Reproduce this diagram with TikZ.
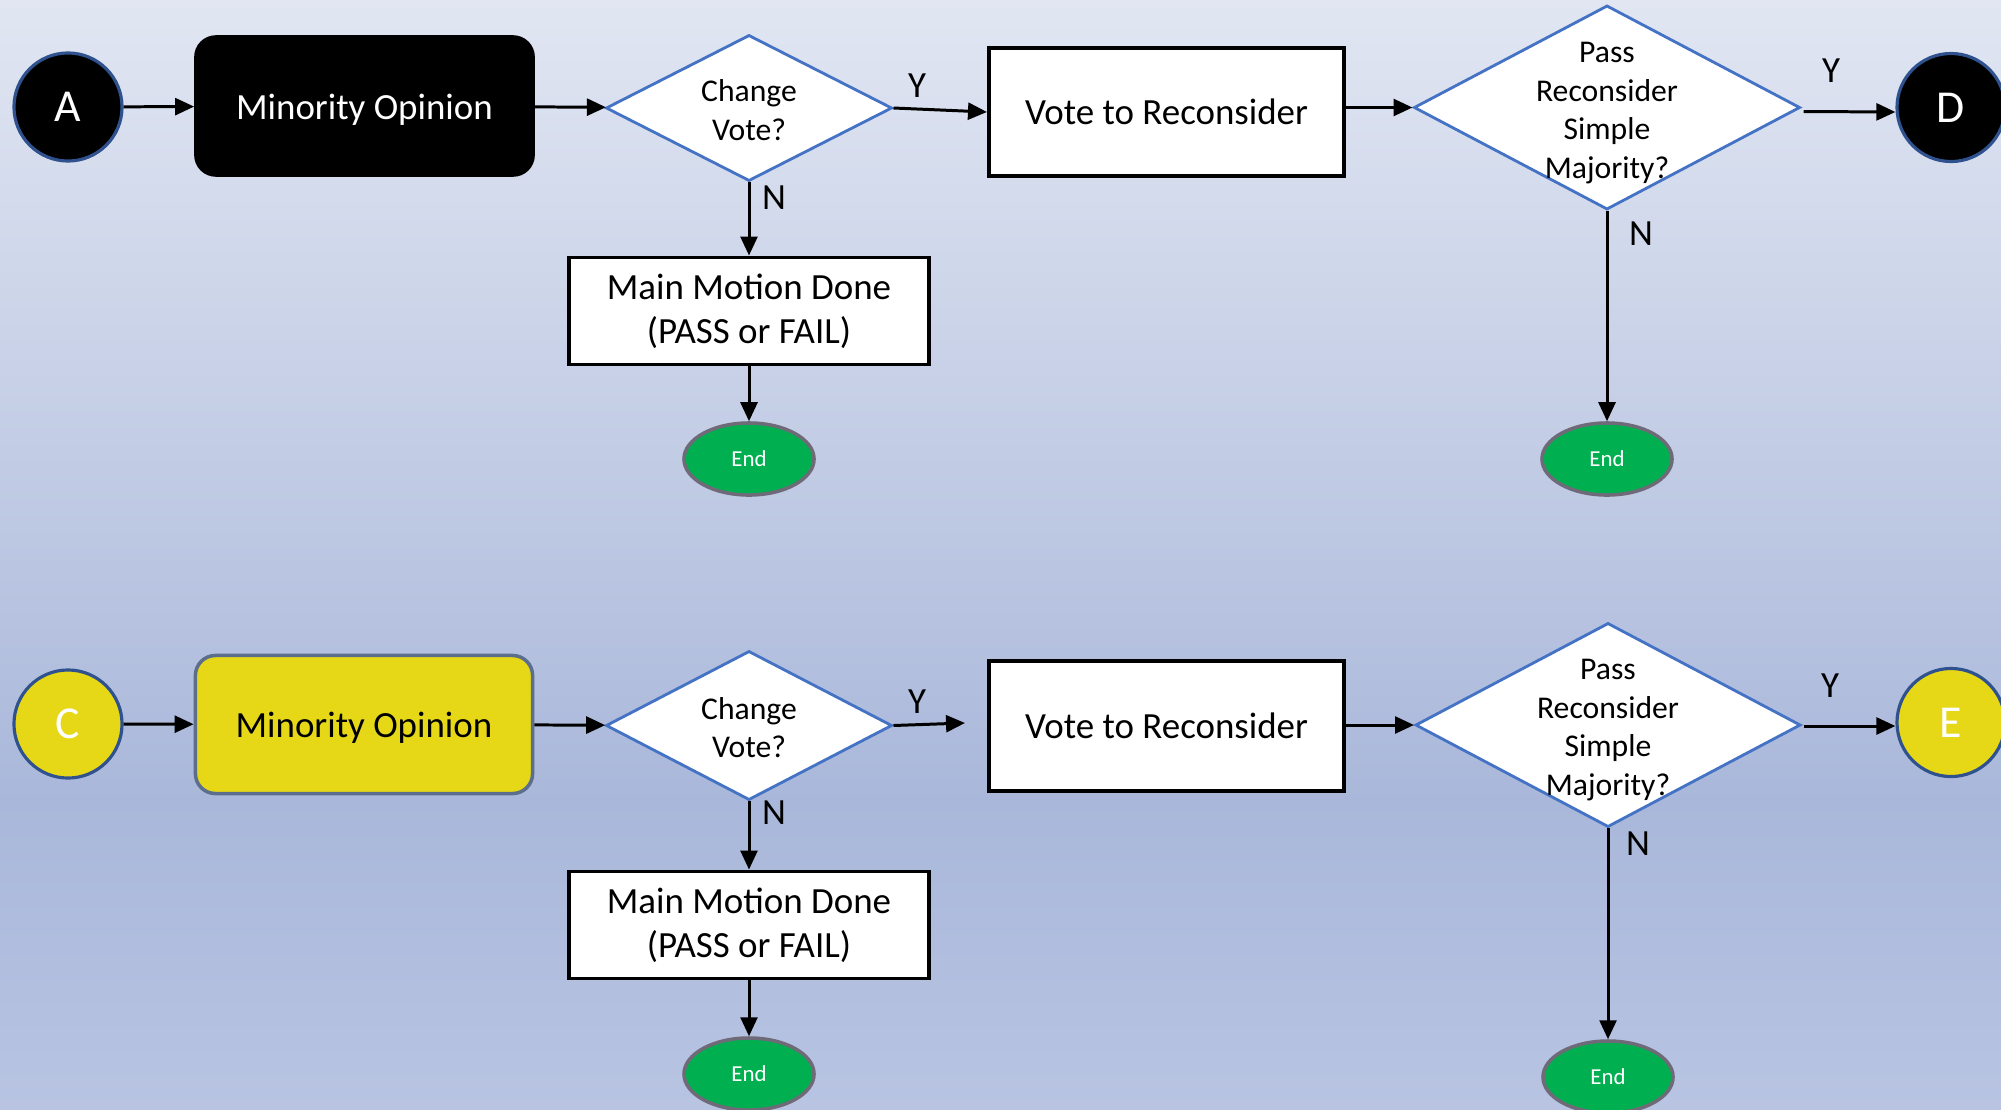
\documentclass[tikz,border=0pt]{standalone}
\usepackage{fontspec}
\setmainfont{Carlito}
\usetikzlibrary{arrows.meta,shapes.geometric}
\definecolor{bgTop}{HTML}{E1E6F2}
\definecolor{bgMid}{HTML}{BCC7E2}
\definecolor{bgLow}{HTML}{A9B7DA}
\definecolor{bgBot}{HTML}{B8C4E2}
\definecolor{cblue}{HTML}{2F528F}
\definecolor{dblue}{HTML}{4472C4}
\definecolor{ylw}{HTML}{E6D817}
\definecolor{ybord}{HTML}{5B6E8C}
\definecolor{egreen}{HTML}{00B050}
\definecolor{egray}{HTML}{6F6A78}
\begin{document}
\begin{tikzpicture}[x=0.01cm,y=-0.01cm,
  conn/.style={draw=black, line width=0.85pt, -{Triangle[length=5.4pt,width=4.8pt]}},
  circ/.style={circle, minimum size=1.08cm, inner sep=0pt, line width=0.9pt, draw=cblue,
     font=\fontsize{13}{14}\selectfont},
  opbox/.style={rectangle, rounded corners=0.2cm, minimum width=3.37cm, minimum height=1.38cm,
     line width=1pt, inner sep=0pt, font=\fontsize{10.5}{12.5}\selectfont},
  dia/.style={diamond, draw=dblue, fill=white, line width=0.8pt, inner sep=0pt},
  dtext/.style={align=center, inner sep=0pt, font=\fontsize{9}{11}\selectfont},
  wbox/.style={rectangle, draw=black, fill=white, line width=1.1pt, align=center, inner sep=0pt,
     font=\fontsize{10.5}{12.5}\selectfont},
  endn/.style={ellipse, fill=egreen, draw=egray, line width=1pt, inner sep=0pt,
     minimum width=1.30cm, minimum height=0.72cm, text=white, font=\fontsize{6.5}{8}\selectfont},
  lab/.style={inner sep=0pt, font=\fontsize{10.5}{12}\selectfont}
]
\useasboundingbox (0,0) rectangle (2001,1109);
% background gradient
\fill[top color=bgTop, bottom color=bgMid] (0,0) rectangle (2001,542);
\fill[top color=bgMid, bottom color=bgLow] (0,540) rectangle (2001,802);
\fill[top color=bgLow, bottom color=bgBot] (0,800) rectangle (2001,1109);

% ---------- top row ----------
\node[circ, fill=black, text=white] (A) at (68,107) {A};
\node[opbox, fill=black, draw=black, text=white] (m1) at (364.5,106) {};
\node[opbox, draw=none, text=white] (m1t) at (364.5,110) {Minority Opinion};
\node[dia, minimum width=2.86cm, minimum height=1.46cm] (d1) at (749,108) {};
\node[dtext] (d1t) at (749,110) {Change\\Vote?};
\node[wbox, minimum width=3.55cm, minimum height=1.28cm] (v1) at (1166.5,112) {Vote to Reconsider};
\node[dia, minimum width=3.86cm, minimum height=2.04cm] (p1) at (1607,107.5) {};
\node[dtext] (p1t) at (1607,113) {Pass\\Reconsider\\Simple\\Majority?};
\node[circ, fill=black, text=white] (D) at (1951,107.5) {D};
\node[wbox, minimum width=3.60cm, minimum height=1.07cm] (mm1) at (749,311) {Main Motion Done\\(PASS or FAIL)};
\node[endn] (e1) at (749,459) {End};
\node[endn] (e2) at (1607,459) {End};

\draw[conn] (A) -- (m1);
\draw[conn] (m1) -- (d1);
\draw[conn] (d1.east) -- (v1.west);
\draw[conn] (v1.east |- p1.west) -- (p1.west);
\draw[conn] (p1.east) ++(2,4) -- (D.west |- 0,112);
\draw[conn] (d1.south) -- (mm1.north);
\draw[conn] (mm1.south) -- (e1.north);
\draw[conn] (p1.south) -- (e2.north);
\node[lab] (y1) at (917,86) {Y};
\node[lab] (n1) at (774,198) {N};
\node[lab] (y2) at (1831,71) {Y};
\node[lab] (n2) at (1641,234) {N};

% ---------- bottom row ----------
\node[circ, fill=ylw, text=white] (C) at (68,724) {C};
\node[opbox, fill=ylw, draw=ybord] (m2) at (364,724.5) {};
\node[opbox, draw=none, text=black] (m2t) at (364,728) {Minority Opinion};
\node[dia, minimum width=2.86cm, minimum height=1.49cm] (d2) at (749,725.5) {};
\node[dtext] (d2t) at (749,727.5) {Change\\Vote?};
\coordinate (yend) at (965,723);
\node[wbox, minimum width=3.55cm, minimum height=1.30cm] (v2) at (1166.5,726) {Vote to Reconsider};
\node[dia, minimum width=3.85cm, minimum height=2.04cm] (p2) at (1608,725) {};
\node[dtext] (p2t) at (1608,730) {Pass\\Reconsider\\Simple\\Majority?};
\node[circ, fill=ylw, text=white] (E) at (1951,722.5) {E};
\node[wbox, minimum width=3.60cm, minimum height=1.07cm] (mm2) at (749,925) {Main Motion Done\\(PASS or FAIL)};
\node[endn] (e3) at (749,1074) {End};
\node[endn] (e4) at (1608,1077) {End};

\draw[conn] (C) -- (m2);
\draw[conn] (m2) -- (d2);
\draw[conn] (d2.east) -- (yend);
\draw[conn] (v2.east |- p2.west) -- (p2.west);
\draw[conn] (p2.east) ++(2,1) -- (E.west |- 0,726);
\draw[conn] (d2.south) -- (mm2.north);
\draw[conn] (mm2.south) -- (e3.north);
\draw[conn] (p2.south) -- (e4.north);
\node[lab] (y3) at (917,702) {Y};
\node[lab] (n3) at (774,813) {N};
\node[lab] (y4) at (1830,686) {Y};
\node[lab] (n4) at (1638,844) {N};
\end{tikzpicture}
\end{document}
